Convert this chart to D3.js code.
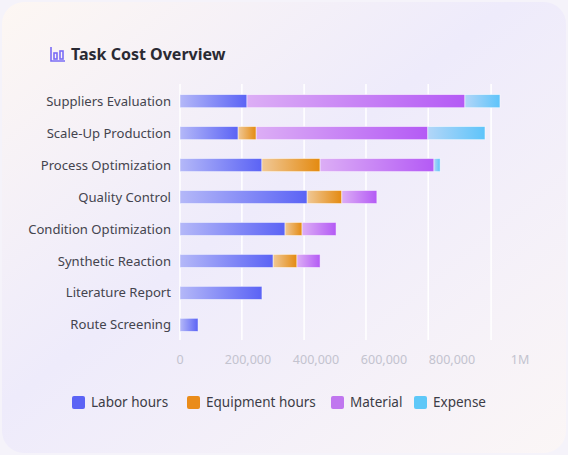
<!DOCTYPE html>
<html lang="en">
<head>
<meta charset="UTF-8">
<title>Task Cost Overview</title>
<style>
  body { margin: 0; background: #f4f2fb; font-family: "Noto Sans", "Open Sans", sans-serif; }
</style>
</head>
<body>
<script src="https://cdn.jsdelivr.net/npm/d3@7"></script>
<script>
const tasks = ['Suppliers Evaluation', 'Scale-Up Production', 'Process Optimization', 'Quality Control',
  'Condition Optimization', 'Synthetic Reaction', 'Literature Report', 'Route Screening'];
const seriesNames = ['Labor hours', 'Equipment hours', 'Material', 'Expense'];
const labor     = [197000, 171000, 241000, 374000, 309000, 274000, 241000, 53000];
const equipment = [0, 53000, 171000, 102000, 50000, 70000, 0, 0];
const material  = [641000, 505000, 335000, 103000, 100000, 68000, 0, 0];
const expense   = [103000, 168000, 18000, 0, 0, 0, 0, 0];
const tickValues = [0, 200000, 400000, 600000, 800000, 1000000];
const tickLabels = ['0', '200,000', '400,000', '600,000', '800,000', '1M'];
const gridValues = [0, 182000, 365000, 547000, 730000, 915000];

const colors = [['#b4b8f8', '#5b63f5'], ['#f0c896', '#e48a10'], ['#dcaef5', '#b45af5'], ['#b2d6f8', '#5ec4fa']];
const legendColors = ['#5b63f5', '#ea8c1a', '#c076ef', '#5ec8f8'];

const W = 568, H = 455;
const svg = d3.select('body').append('svg').attr('width', W).attr('height', H);
const defs = svg.append('defs');

// card background
const bg = defs.append('linearGradient').attr('id', 'bg').attr('x1', 0).attr('y1', 0).attr('x2', 1).attr('y2', 1);
bg.append('stop').attr('offset', 0).attr('stop-color', '#fdf7f3');
bg.append('stop').attr('offset', 0.45).attr('stop-color', '#eeebfb');
bg.append('stop').attr('offset', 1).attr('stop-color', '#fbf6f6');
svg.append('rect').attr('width', W).attr('height', H).attr('fill', '#f5f3fa');
svg.append('rect').attr('x', 2).attr('y', 2).attr('width', W - 4).attr('height', H - 4).attr('rx', 22)
  .attr('fill', 'url(#bg)');

colors.forEach((c, i) => {
  const g = defs.append('linearGradient').attr('id', 'g' + i);
  g.append('stop').attr('offset', 0).attr('stop-color', c[0]);
  g.append('stop').attr('offset', 1).attr('stop-color', c[1]);
});

// title
const icon = svg.append('g').attr('transform', 'translate(50,47)').attr('stroke', '#7a6cf5').attr('fill', 'none').attr('stroke-width', 1.6);
icon.append('path').attr('d', 'M1 0 V14 H15');
icon.append('rect').attr('x', 4).attr('y', 6).attr('width', 3).attr('height', 6);
icon.append('rect').attr('x', 10).attr('y', 4).attr('width', 3).attr('height', 8);
svg.append('text').attr('x', 71).attr('y', 60).text('Task Cost Overview')
  .attr('font-size', 16).attr('font-weight', 700).attr('fill', '#2a2a33');

const x = d3.scaleLinear().domain([0, 1000000]).range([180, 520]);
const y = d3.scaleBand().domain(tasks).range([85, 341]).paddingInner(0.59).paddingOuter(0.3);

svg.append('g').selectAll('line').data(gridValues).join('line')
  .attr('x1', d => x(d)).attr('x2', d => x(d)).attr('y1', 84).attr('y2', 340)
  .attr('stroke', '#ffffff').attr('stroke-width', 1.5);

const seriesData = [labor, equipment, material, expense];
const stacked = tasks.map((t, i) => {
  let acc = 0;
  return seriesData.map((s, k) => { const d = { task: t, k, x0: acc, x1: acc + s[i] }; acc += s[i]; return d; });
}).flat().filter(d => d.x1 > d.x0);

svg.append('g').selectAll('rect').data(stacked).join('rect')
  .attr('x', d => x(d.x0)).attr('width', d => x(d.x1) - x(d.x0))
  .attr('y', d => y(d.task)).attr('height', y.bandwidth())
  .attr('fill', d => `url(#g${d.k})`)
  .attr('stroke', 'rgba(255,255,255,0.6)').attr('stroke-width', 0.8);

svg.append('g').selectAll('text').data(tasks).join('text')
  .attr('x', 171).attr('y', d => y(d) + y.bandwidth() / 2).attr('dy', '0.35em')
  .attr('text-anchor', 'end').attr('font-size', 13.1).attr('fill', '#44444e').text(d => d);

svg.append('g').selectAll('text').data(tickValues).join('text')
  .attr('x', d => x(d)).attr('y', 364).attr('text-anchor', 'middle')
  .attr('font-size', 12.5).attr('fill', '#c3c3cf').text((d, i) => tickLabels[i]);

// legend
const legX = [72, 187, 331, 414];
const leg = svg.append('g').selectAll('g').data(seriesNames).join('g')
  .attr('transform', (d, i) => `translate(${legX[i]},396)`);
leg.append('rect').attr('width', 13).attr('height', 13).attr('rx', 2).attr('fill', (d, i) => legendColors[i]);
leg.append('text').attr('x', 19).attr('y', 11).attr('font-size', 13.5).attr('fill', '#3c3c46').text(d => d);
</script>
</body>
</html>
